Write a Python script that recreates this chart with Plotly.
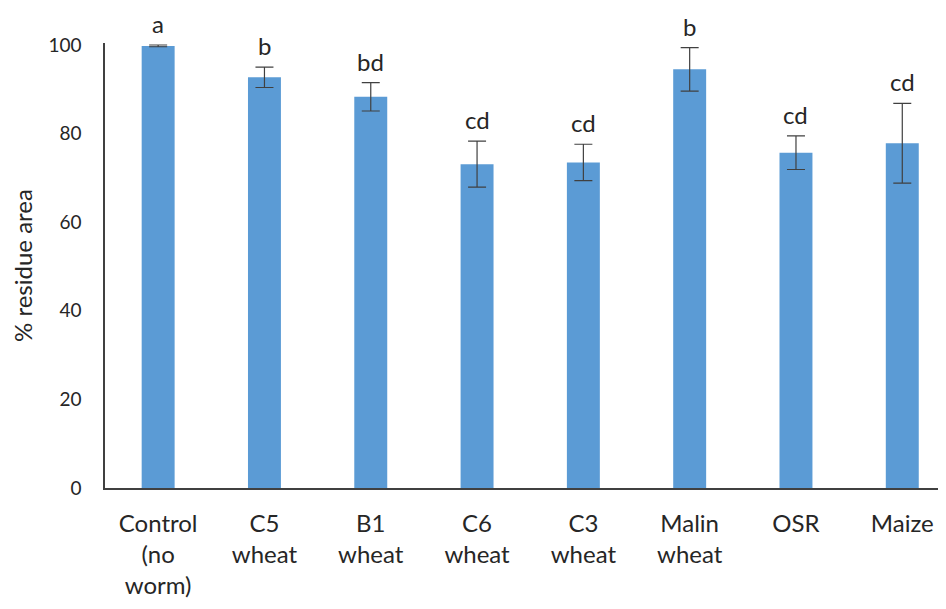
import plotly.graph_objects as go

categories = ["Control<br>(no<br>worm)", "C5<br>wheat", "B1<br>wheat", "C6<br>wheat",
              "C3<br>wheat", "Malin<br>wheat", "OSR", "Maize"]
values = [99.8, 92.7, 88.3, 73.1, 73.5, 94.5, 75.7, 77.8]
errors = [0.2, 2.3, 3.2, 5.2, 4.1, 4.9, 3.8, 9.0]
letters = ["a", "b", "bd", "cd", "cd", "b", "cd", "cd"]

FONT = "Lato"
TXT = "#262626"

fig = go.Figure()
fig.add_trace(go.Bar(
    x=list(range(len(categories))),
    y=values,
    width=0.31,
    marker=dict(color="#5B9BD5", line=dict(width=0)),
    error_y=dict(type="data", array=errors, visible=True, color="#404040",
                 thickness=1.2, width=9),
))

for i, (v, e, l) in enumerate(zip(values, errors, letters)):
    fig.add_annotation(x=i, y=v + e, text=l, showarrow=False, yanchor="bottom",
                       yshift=5, font=dict(family=FONT, size=24, color=TXT))

fig.update_layout(
    width=930, height=593,
    margin=dict(l=97, r=0, t=35, b=113),
    paper_bgcolor="white", plot_bgcolor="white",
    showlegend=False,
    font=dict(family=FONT, size=19, color=TXT),
    xaxis=dict(range=[-0.5, 7.336], tickmode="array",
               tickvals=list(range(len(categories))), ticktext=categories,
               showgrid=False, zeroline=False, showline=True, automargin=False,
               linecolor="#404040", linewidth=1.5, ticks="",
               ticklabelstandoff=13,
               tickfont=dict(family=FONT, size=24, color=TXT)),
    yaxis=dict(range=[0, 100.45], tickvals=[0, 20, 40, 60, 80, 100],
               showgrid=False, zeroline=False, showline=True, automargin=False,
               linecolor="#404040", linewidth=1.5, ticks="",
               ticklabelstandoff=18,
               tickfont=dict(family=FONT, size=19, color=TXT),
               title=dict(text="% residue area", standoff=14,
                          font=dict(family=FONT, size=24, color=TXT))),
)

fig.write_html("out.html")
